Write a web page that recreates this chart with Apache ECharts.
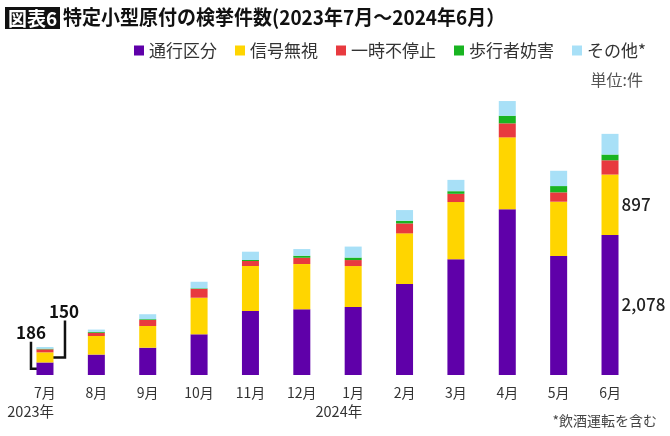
<!DOCTYPE html>
<html>
<head>
<meta charset="utf-8">
<script src="https://cdn.jsdelivr.net/npm/echarts@6/dist/echarts.min.js"></script>
<style>
  body { margin: 0; background: #fff; }
  #chart { width: 670px; height: 436px; }
</style>
</head>
<body>
<div id="chart"></div>
<script>
  // 検挙件数 (2023年7月〜2024年6月)
  var months = ['7月', '8月', '9月', '10月', '11月', '12月', '1月', '2月', '3月', '4月', '5月', '6月'];
  var tsuko   = [186, 303, 405, 604, 950, 975, 1009, 1350, 1717, 2459, 1766, 2078];  // 通行区分
  var shingo  = [150, 276, 322, 543, 668, 672, 608, 752, 850, 1068, 806, 897];       // 信号無視
  var ichiji  = [45, 48, 89, 129, 74, 93, 89, 148, 122, 208, 139, 212];               // 一時不停止
  var hokosha = [10, 12, 12, 10, 15, 30, 37, 39, 39, 113, 93, 85];                    // 歩行者妨害
  var sonota  = [25, 35, 74, 98, 123, 99, 163, 159, 168, 218, 227, 307];              // その他*
  var yearLabels = [{ month: '7月', text: '2023年' }, { month: '1月', text: '2024年' }];

  var font = '"Noto Sans CJK JP", "Noto Sans", sans-serif';
  var colors = ['#5f00a9', '#ffd500', '#e83a3f', '#19b421', '#a8e0f7'];

  function lastLabel(params) {
    if (params.dataIndex !== months.length - 1) return '';
    return params.value.toLocaleString('en-US');
  }

  function makeSeries(name, data, color, withLabel) {
    var s = {
      name: name,
      type: 'bar',
      stack: 'total',
      barWidth: 17,
      data: data,
      itemStyle: { color: color },
      emphasis: { disabled: true }
    };
    if (withLabel) {
      s.label = {
        show: true,
        position: 'right',
        distance: 3,
        formatter: lastLabel,
        fontFamily: font,
        fontSize: 17,
        fontWeight: 500,
        color: '#222'
      };
    }
    return s;
  }

  var chart = echarts.init(document.getElementById('chart'));
  var option = {
    animation: false,
    backgroundColor: '#fff',
    textStyle: { fontFamily: font },
    legend: {
      left: 129,
      top: 37,
      itemWidth: 10,
      itemHeight: 10,
      itemGap: 18,
      icon: 'rect',
      textStyle: { fontSize: 17, color: '#333', fontFamily: font },
      data: ['通行区分', '信号無視', '一時不停止', '歩行者妨害', 'その他*']
    },
    grid: { left: 19.3, right: 34.3, top: 71.8, bottom: 61 },
    xAxis: {
      type: 'category',
      data: months,
      axisLine: { show: false },
      axisTick: { show: false },
      axisLabel: { margin: 11, fontSize: 14, color: '#333', fontFamily: font }
    },
    yAxis: {
      type: 'value',
      min: 0,
      max: 4500,
      show: false,
      splitLine: { show: false }
    },
    series: [
      makeSeries('通行区分', tsuko, colors[0], true),
      makeSeries('信号無視', shingo, colors[1], true),
      makeSeries('一時不停止', ichiji, colors[2], false),
      makeSeries('歩行者妨害', hokosha, colors[3], false),
      makeSeries('その他*', sonota, colors[4], false)
    ]
  };
  chart.setOption(option);

  // 見出し・単位・注記
  var g = [
    { type: 'rect', shape: { x: 5, y: 7, width: 55, height: 22 }, style: { fill: '#111' } },
    { type: 'text', x: 8, y: 18.5,
      style: { text: '図表6', fill: '#fff', fontSize: 19, fontWeight: 'bold', fontFamily: font, verticalAlign: 'middle' } },
    { type: 'text', x: 63, y: 17.5, scaleX: 0.95,
      style: { text: '特定小型原付の検挙件数(2023年7月～2024年6月）', fill: '#111', fontSize: 20, fontWeight: 'bold', fontFamily: font, verticalAlign: 'middle' } },
    { type: 'text', x: 643, y: 80,
      style: { text: '単位:件', fill: '#555', fontSize: 16, fontFamily: font, align: 'right', verticalAlign: 'middle' } },
    { type: 'text', x: 657, y: 421,
      style: { text: '*飲酒運転を含む', fill: '#444', fontSize: 14, fontFamily: font, align: 'right', verticalAlign: 'middle' } }
  ];

  yearLabels.forEach(function (yl) {
    var p = chart.convertToPixel({ seriesIndex: 0 }, [yl.month, 0]);
    g.push({ type: 'text', x: p[0] + 9, y: 411,
      style: { text: yl.text, fill: '#333', fontSize: 14.5, fontFamily: font, align: 'right', verticalAlign: 'middle' } });
  });

  // 7月の内訳の引き出し線
  var base = chart.convertToPixel({ seriesIndex: 0 }, [months[0], 0]);
  var midP = chart.convertToPixel({ seriesIndex: 0 }, [months[0], tsuko[0] / 2]);
  var midY = chart.convertToPixel({ seriesIndex: 0 }, [months[0], tsuko[0] + shingo[0] / 2]);
  var cx = base[0];
  g.push({ type: 'polyline', shape: { points: [[cx + 2, midP[1]], [cx - 14, midP[1]], [cx - 14, midP[1] - 27]] },
    style: { stroke: '#111', lineWidth: 2.5, fill: null } });
  g.push({ type: 'text', x: cx - 14, y: midP[1] - 36,
    style: { text: String(tsuko[0]), fill: '#111', fontSize: 17, fontWeight: 'bold', fontFamily: font, align: 'center', verticalAlign: 'middle' } });
  g.push({ type: 'polyline', shape: { points: [[cx + 3, midY[1]], [cx + 20, midY[1]], [cx + 20, midY[1] - 37]] },
    style: { stroke: '#111', lineWidth: 2.5, fill: null } });
  g.push({ type: 'text', x: cx + 19, y: midY[1] - 46,
    style: { text: String(shingo[0]), fill: '#111', fontSize: 17, fontWeight: 'bold', fontFamily: font, align: 'center', verticalAlign: 'middle' } });

  chart.setOption({ graphic: g });
</script>
</body>
</html>
